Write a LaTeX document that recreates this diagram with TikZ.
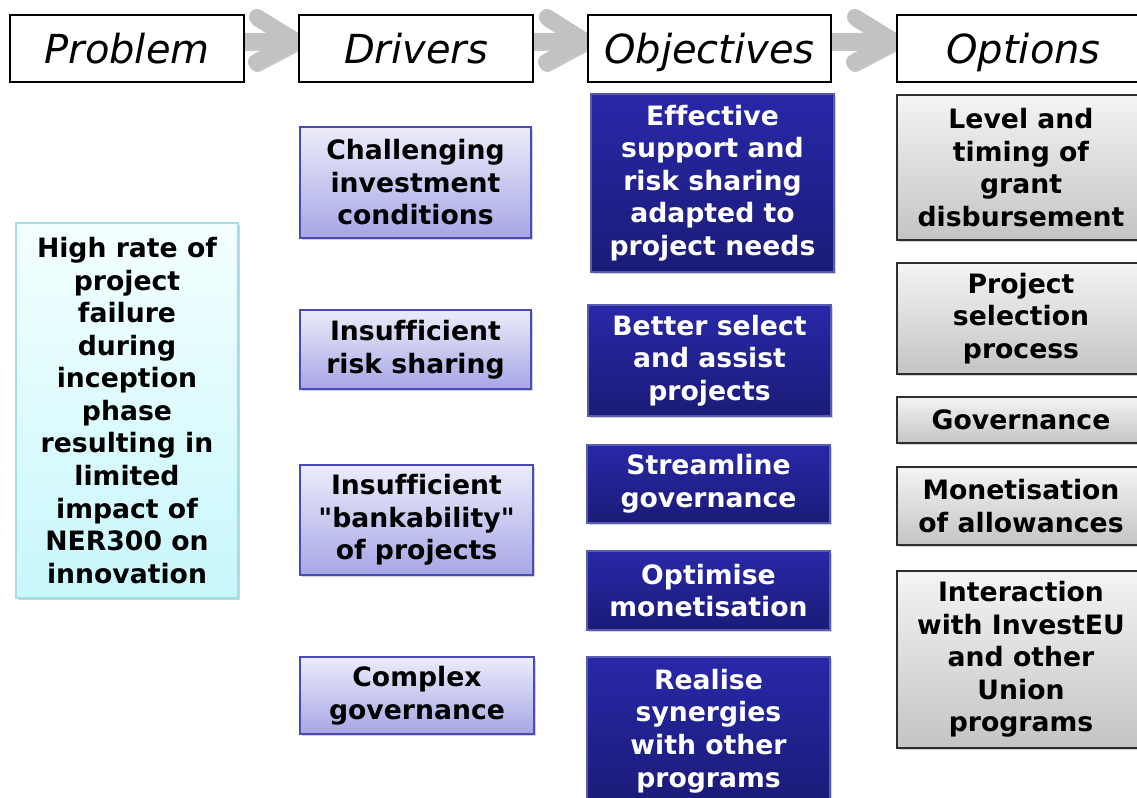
\documentclass[tikz,border=0pt]{standalone}
\usepackage{fontspec}
\setmainfont[Ligatures={NoCommon}]{DejaVu Sans}
\usetikzlibrary{shadows}
\definecolor{arrowgray}{HTML}{C2C2C2}
\definecolor{probtop}{HTML}{F4FFFF}
\definecolor{probbot}{HTML}{C8F7FB}
\definecolor{probline}{HTML}{A8DCE4}
\definecolor{drvtop}{HTML}{ECECFA}
\definecolor{drvbot}{HTML}{A6A6E6}
\definecolor{drvline}{HTML}{4B4BB8}
\definecolor{objtop}{HTML}{2828A8}
\definecolor{objbot}{HTML}{1B1B78}
\definecolor{objline}{HTML}{5A5AB0}
\definecolor{opttop}{HTML}{F4F4F4}
\definecolor{optbot}{HTML}{C4C4C4}
\definecolor{optline}{HTML}{2E2E2E}
\tikzset{
  sz/.style 2 args={minimum width=#1*0.75pt, minimum height=#2*0.75pt},
  box/.style={inner sep=0pt, align=center, font=\bfseries\fontsize{20}{24.4}\selectfont,
    drop shadow={opacity=0.35, shadow xshift=1.5pt, shadow yshift=-1.5pt}},
  hdr/.style={draw=black, line width=1.6pt, fill=white, inner sep=0pt,
    font=\itshape\fontsize{30}{34}\selectfont, text height=22pt, text depth=0pt},
  prob/.style={box, draw=probline, line width=0.8pt, top color=probtop, bottom color=probbot},
  drv/.style={box, draw=drvline, line width=1.1pt, top color=drvtop, bottom color=drvbot},
  obj/.style={box, draw=objline, line width=0.8pt, top color=objtop, bottom color=objbot, text=white},
  opt/.style={box, draw=optline, line width=1.1pt, top color=opttop, bottom color=optbot},
  flow/.style={draw=arrowgray, line width=12pt, line cap=round, line join=round},
}
\begin{document}
\begin{tikzpicture}[x=0.75pt,y=-0.75pt]
\useasboundingbox (0,0) rectangle (1137,798);
% flow arrows behind the header boxes
\coordinate (a1s) at (220,41); \coordinate (a1t) at (296,41);
\coordinate (a1u) at (257,17); \coordinate (a1l) at (256,62);
\coordinate (a2s) at (510,41); \coordinate (a2t) at (585,41);
\coordinate (a2u) at (547,17); \coordinate (a2l) at (546,62);
\coordinate (a3s) at (800,41); \coordinate (a3t) at (894,41);
\coordinate (a3u) at (855,17); \coordinate (a3l) at (854,62);
\foreach \s/\t/\u/\l in {a1s/a1t/a1u/a1l,a2s/a2t/a2u/a2l,a3s/a3t/a3u/a3l}{
  \draw[flow, draw=black!22, transform canvas={xshift=1pt,yshift=-1.5pt}] (\s) -- (\t) (\u) -- (\t) -- (\l);
  \draw[flow] (\s) -- (\t) (\u) -- (\t) -- (\l);
}
% headers
\node[hdr, sz={234}{67}] (hprob) at (127,48.5) {Problem};
\node[hdr, sz={234}{67}] (hdrv) at (416,48.5) {Drivers};
\node[hdr, sz={243}{67}] (hobj) at (709.5,48.5) {Objectives};
\node[hdr, sz={253}{67}] (hopt) at (1023.5,48.5) {Options};
% problem
\node[prob, sz={222}{375}] (prob) at (127,410.5) {High rate of\\project\\failure\\during\\inception\\phase\\resulting in\\limited\\impact of\\NER300 on\\innovation};
% drivers
\node[drv, sz={231}{111}] (d1) at (415.5,182.5) {Challenging\\investment\\conditions};
\node[drv, sz={231}{79}] (d2) at (415.5,349.5) {Insufficient\\risk sharing};
\node[drv, sz={233}{110}] (d3) at (416.5,520) {Insufficient\\\textquotedbl bankability\textquotedbl\\of projects};
\node[drv, sz={234}{77}] (d4) at (417,695.5) {Complex\\governance};
% objectives
\node[obj, sz={243}{178}] (o1) at (712.5,183) {Effective\\support and\\risk sharing\\adapted to\\project needs};
\node[obj, sz={243}{111}] (o2) at (709.5,360.5) {Better select\\and assist\\projects};
\node[obj, sz={243}{78}] (o3) at (708.5,484) {Streamline\\governance};
\node[obj, sz={243}{79}] (o4) at (708.5,590.5) {Optimise\\monetisation};
\node[obj, sz={243}{148}] (o5) at (708.5,731) {Realise\\synergies\\with other\\programs};
% options
\node[opt, sz={248}{145}] (p1) at (1021,167.5) {Level and\\timing of\\grant\\disbursement};
\node[opt, sz={248}{111}] (p2) at (1021,318.5) {Project\\selection\\process};
\node[opt, sz={248}{46}] (p3) at (1021,420) {Governance};
\node[opt, sz={248}{78}] (p4) at (1021,506) {Monetisation\\of allowances};
\node[opt, sz={248}{177}] (p5) at (1021,659.5) {Interaction\\with InvestEU\\and other\\Union\\programs};
\end{tikzpicture}
\end{document}
